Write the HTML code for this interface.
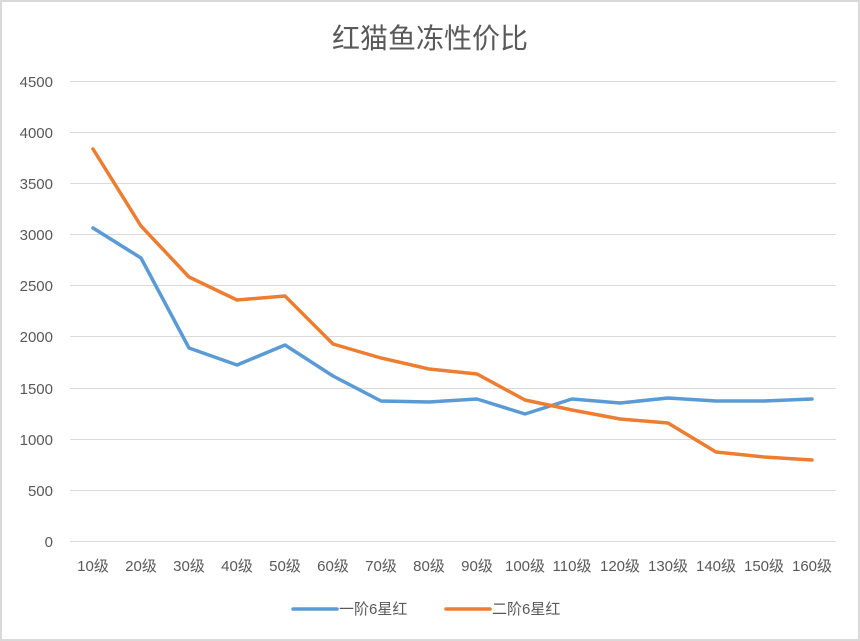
<!DOCTYPE html><html><head><meta charset="utf-8"><style>body{margin:0;background:#fff}svg{display:block}text{font-family:"Liberation Sans","Noto Sans CJK SC",sans-serif;fill:#595959}</style></head><body>
<svg width="860" height="641" xmlns="http://www.w3.org/2000/svg">
<rect x="1" y="1" width="858" height="639" fill="#fff" stroke="#d9d9d9" stroke-width="2"/>
<text x="430" y="48" font-size="28" text-anchor="middle">红猫鱼冻性价比</text>
<g stroke="#d9d9d9" stroke-width="1">
<line x1="70" x2="836" y1="81.5" y2="81.5"/><line x1="70" x2="836" y1="132.5" y2="132.5"/><line x1="70" x2="836" y1="183.5" y2="183.5"/><line x1="70" x2="836" y1="234.5" y2="234.5"/><line x1="70" x2="836" y1="285.5" y2="285.5"/><line x1="70" x2="836" y1="336.5" y2="336.5"/><line x1="70" x2="836" y1="388.5" y2="388.5"/><line x1="70" x2="836" y1="439.5" y2="439.5"/><line x1="70" x2="836" y1="490.5" y2="490.5"/><line x1="70" x2="836" y1="541.5" y2="541.5"/>
</g>
<g font-size="15" text-anchor="end">
<text x="53" y="87">4500</text><text x="53" y="138">4000</text><text x="53" y="189">3500</text><text x="53" y="240">3000</text><text x="53" y="291">2500</text><text x="53" y="342">2000</text><text x="53" y="394">1500</text><text x="53" y="445">1000</text><text x="53" y="496">500</text><text x="53" y="547">0</text>
</g>
<g font-size="15" text-anchor="middle">
<text x="93" y="571">10级</text><text x="141" y="571">20级</text><text x="189" y="571">30级</text><text x="237" y="571">40级</text><text x="285" y="571">50级</text><text x="333" y="571">60级</text><text x="381" y="571">70级</text><text x="429" y="571">80级</text><text x="477" y="571">90级</text><text x="525" y="571">100级</text><text x="572" y="571">110级</text><text x="620" y="571">120级</text><text x="668" y="571">130级</text><text x="716" y="571">140级</text><text x="764" y="571">150级</text><text x="812" y="571">160级</text>
</g>
<polyline fill="none" stroke="#5b9bd5" stroke-width="3.5" stroke-linejoin="round" stroke-linecap="round" points="93,228 141,258 189,348 237,365 285,345 333,376 381,401 429,402 477,399 525,414 572,399 620,403 668,398 716,401 764,401 812,399"/>
<polyline fill="none" stroke="#ed7d31" stroke-width="3.5" stroke-linejoin="round" stroke-linecap="round" points="93,149 141,226 189,277 237,300 285,296 333,344 381,358 429,369 477,374 525,400 572,410 620,419 668,423 716,452 764,457 812,460"/>
<line x1="293" x2="337" y1="609" y2="609" stroke="#5b9bd5" stroke-width="3.5" stroke-linecap="round"/>
<text x="339" y="614" font-size="15">一阶6星红</text>
<line x1="446" x2="490" y1="609" y2="609" stroke="#ed7d31" stroke-width="3.5" stroke-linecap="round"/>
<text x="492" y="614" font-size="15">二阶6星红</text>
</svg></body></html>
